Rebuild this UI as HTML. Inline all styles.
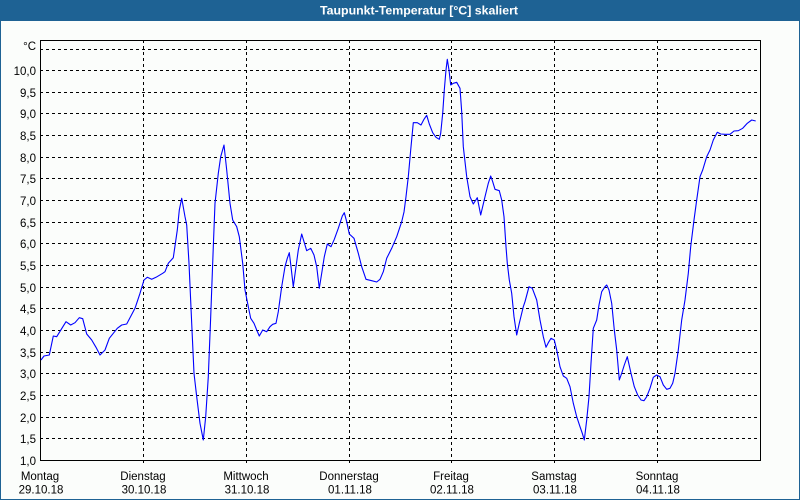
<!DOCTYPE html>
<html><head><meta charset="utf-8"><style>
html,body{margin:0;padding:0;background:#fbfdfb;}
svg{display:block;}
text{font-family:"Liberation Sans",Tahoma,sans-serif;font-size:11.5px;fill:#000;}
</style></head><body>
<svg width="800" height="500" viewBox="0 0 800 500" xmlns="http://www.w3.org/2000/svg">
<rect x="0" y="0" width="800" height="500" fill="#fbfdfb"/>
<rect x="0" y="0" width="800" height="21" fill="#1e6294"/>
<rect x="0" y="0" width="1" height="500" fill="#1e6294"/>
<rect x="799" y="0" width="1" height="500" fill="#1e6294"/>
<rect x="0" y="499" width="800" height="1" fill="#1e6294"/>
<text x="320" y="14.5" style="font-weight:bold;fill:#fff;font-size:11.5px" textLength="198" lengthAdjust="spacingAndGlyphs">Taupunkt-Temperatur [°C] skaliert</text>

<g stroke="#000" stroke-width="1" stroke-dasharray="3,3" fill="none">
<line x1="40" y1="438.5" x2="760" y2="438.5"/>
<line x1="40" y1="417.5" x2="760" y2="417.5"/>
<line x1="40" y1="395.5" x2="760" y2="395.5"/>
<line x1="40" y1="373.5" x2="760" y2="373.5"/>
<line x1="40" y1="352.5" x2="760" y2="352.5"/>
<line x1="40" y1="330.5" x2="760" y2="330.5"/>
<line x1="40" y1="308.5" x2="760" y2="308.5"/>
<line x1="40" y1="287.5" x2="760" y2="287.5"/>
<line x1="40" y1="265.5" x2="760" y2="265.5"/>
<line x1="40" y1="243.5" x2="760" y2="243.5"/>
<line x1="40" y1="222.5" x2="760" y2="222.5"/>
<line x1="40" y1="200.5" x2="760" y2="200.5"/>
<line x1="40" y1="178.5" x2="760" y2="178.5"/>
<line x1="40" y1="157.5" x2="760" y2="157.5"/>
<line x1="40" y1="135.5" x2="760" y2="135.5"/>
<line x1="40" y1="113.5" x2="760" y2="113.5"/>
<line x1="40" y1="92.5" x2="760" y2="92.5"/>
<line x1="40" y1="70.5" x2="760" y2="70.5"/>
<line x1="40" y1="49.5" x2="760" y2="49.5"/>
<line x1="143.5" y1="40" x2="143.5" y2="464"/>
<line x1="246.5" y1="40" x2="246.5" y2="464"/>
<line x1="349.5" y1="40" x2="349.5" y2="464"/>
<line x1="451.5" y1="40" x2="451.5" y2="464"/>
<line x1="554.5" y1="40" x2="554.5" y2="464"/>
<line x1="657.5" y1="40" x2="657.5" y2="464"/>
</g>
<rect x="40.5" y="40.5" width="720" height="420" fill="none" stroke="#000" stroke-width="1"/>

<g text-anchor="end">
<text x="36" y="50">°C</text>
<text x="36" y="75">10,0</text>
<text x="36" y="97">9,5</text>
<text x="36" y="118">9,0</text>
<text x="36" y="140">8,5</text>
<text x="36" y="162">8,0</text>
<text x="36" y="183">7,5</text>
<text x="36" y="205">7,0</text>
<text x="36" y="227">6,5</text>
<text x="36" y="248">6,0</text>
<text x="36" y="270">5,5</text>
<text x="36" y="292">5,0</text>
<text x="36" y="313">4,5</text>
<text x="36" y="335">4,0</text>
<text x="36" y="357">3,5</text>
<text x="36" y="378">3,0</text>
<text x="36" y="400">2,5</text>
<text x="36" y="422">2,0</text>
<text x="36" y="443">1,5</text>
<text x="36" y="465">1,0</text>
</g>

<g text-anchor="middle">
<text x="40" y="480">Montag</text><text x="41" y="493.5">29.10.18</text>
<text x="143" y="480">Dienstag</text><text x="144" y="493.5">30.10.18</text>
<text x="246" y="480">Mittwoch</text><text x="247" y="493.5">31.10.18</text>
<text x="349" y="480">Donnerstag</text><text x="350" y="493.5">01.11.18</text>
<text x="451" y="480">Freitag</text><text x="452" y="493.5">02.11.18</text>
<text x="554" y="480">Samstag</text><text x="555" y="493.5">03.11.18</text>
<text x="657" y="480">Sonntag</text><text x="658" y="493.5">04.11.18</text>
</g>

<polyline fill="none" stroke="#0000ff" stroke-width="1.1" stroke-linejoin="round" points="
41,360 44,356 49.3,355 53.3,336 56.7,336.7 66,321.7 70.7,325 75,322.7 79.3,317.7 82.7,318.7 86.7,334 91.7,340 96,347.3 100,355 105,350 109.3,338.3 117.3,328.3 121.7,325 126.7,324 135,308.3 140,293.3 144,280 147.3,277.3 151.7,279.3 156,277.3 162.7,273.3 165,271.7 168.3,263.3 173.3,257.7 177.3,230 179.3,210 181.7,198.3 185,216.7 186.7,225 189,263.3 191.7,323.3 194,373.3 196.7,396.7 200,423.3 203.3,440 205.7,416.7 208.3,376.7 210.7,316.7 213.3,246.7 215,203.3 218.3,173.3 220.7,156.7 224,145 226.7,170 230,203.3 232.7,220 236.7,226.7 239.3,236.7
242.7,263.3 245,290 248.3,306.7 250.7,318.3 254,323.3 256.7,330 259.3,336 262.7,330 266.7,331.7 270,326.7 272.7,324.3 276,323.3 278.3,311.7 281.7,286.7 285,266.7 287.3,258.3 289.3,252.7 291,266.7 293.3,286.7 296,266.7 298.3,250 301.7,234 304,241.7 306.7,250.7 310.7,248.3 314,255 316.7,266.7 319.3,288.3 321.7,273.3 324.3,256.7 327.3,244 331,246.7 334.3,239.3 338.3,228.3 342.3,216 344.3,212.7 346.7,221.7 349.3,234 354,238.3 358.3,253.3 361.7,266.7 366,279.3 371.7,280.7 376.7,282 380,279.3 383.3,271.7 386.7,258.3 391.7,248.3 396.7,236.7 401.7,221.7 404,212
406,196.7 408.3,176.7 410.7,150 413.3,122.7 417.3,122.7 421,125 424,119.3 426.7,115.3 429.3,124 432.7,132.7 436,137.3 439.3,139.3 440.7,133.3 442.7,113.3 444.3,90 446,70 447.3,59.3 449,70 450.7,85 453.3,83.3 456.7,82.3 460,88.3 461.7,111.7 463.3,146.7 466.7,176.7 470,196.7 473.3,204 477.3,197.7 480.7,215 485,196.7 488.3,183.3 490.7,176 492.7,181.7 495,189.3 499.3,190.7 501.7,200 504,216.7 506,246.7 507.3,263.3 509.3,280 511.7,293.3 514,316.7 516.7,335 519.3,323.3 523.3,306.7
525,301.7 529,286.7 532.3,288.3 536.7,300 540,320 543.3,336.7 546,347.3 548.3,342.7 551,338.3 554.3,340 556.7,350 560,366.7 563.3,376 566.7,378.3 570,386.7 573.3,403.3 576.7,416.7 580,426.7 582.3,433.3 584.3,440 586.7,420 589,396.7 591,363.3 593.3,328.3 596.7,320 599,305 601.7,291.7 605,286.7 606.7,285 609,290 611.7,303.3 614.3,330 616.7,350 619.3,380 621.7,373.3 624.3,365 627.3,356.7 631,373.3 634.3,386.7 637.7,395 641,400 644,400.7 646.7,396.7 650,388.3 653.3,377.3 656.7,375 660,376.7 663.3,385 666.7,389.3 670,388.3 672.7,383.3 675,373.3 678.3,350 681.7,320 685,300 688.3,273.3 690.7,246.7 694,220 696.7,200 700,176.7 702.7,170 706.7,156.7 710,150 713.3,140 717.3,132.3 720.7,134 725,134.3 730,134.3 734,131 738.3,130.7 742.7,128.3 747.3,123.3 751.7,120 755.7,121"/>
</svg>
</body></html>
